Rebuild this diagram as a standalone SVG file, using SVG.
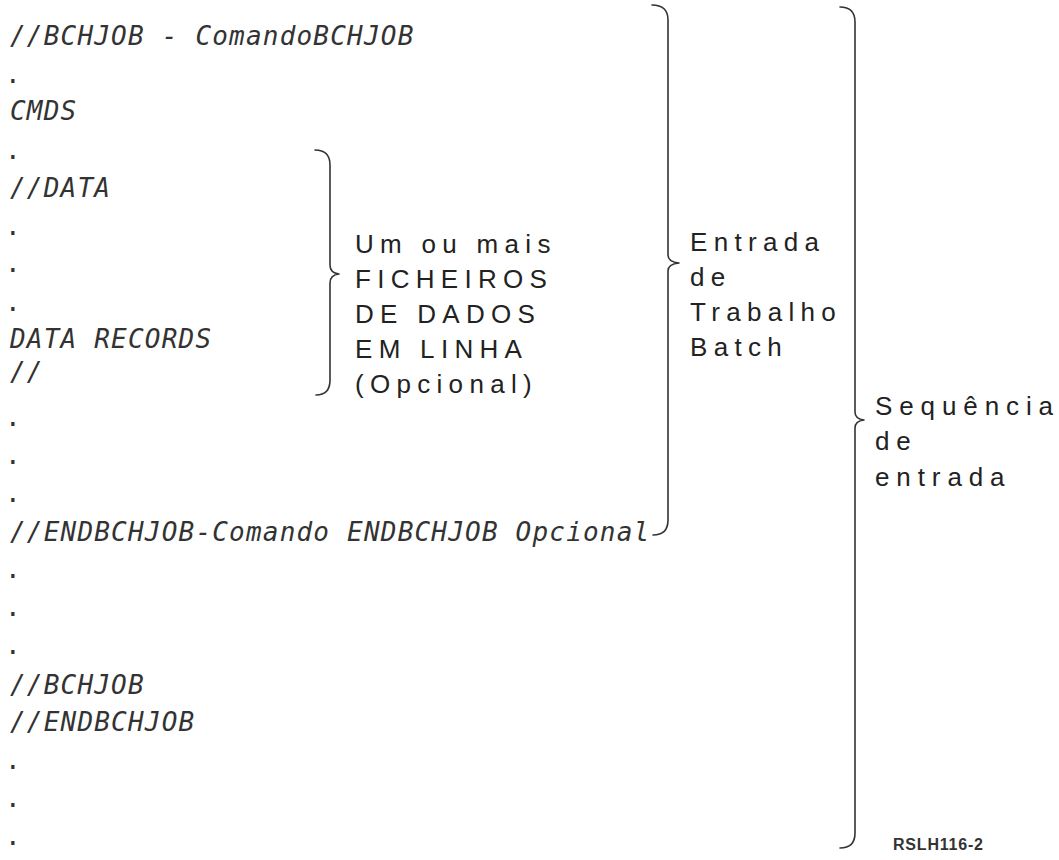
<svg xmlns="http://www.w3.org/2000/svg" width="1059" height="860" viewBox="0 0 1059 860">
<style>
.code{font-family:"DejaVu Sans Mono","Liberation Mono",monospace;font-style:italic;font-size:26px;letter-spacing:1.2px;fill:#333}
.dot{font-family:"DejaVu Sans Mono","Liberation Mono",monospace;font-size:26px;fill:#333}
.lbl{font-family:"Liberation Sans",Arial,sans-serif;font-size:26px;letter-spacing:6.3px;fill:#222}
.wide{letter-spacing:6.9px}
.id{font-family:"Liberation Sans",Arial,sans-serif;font-size:16px;font-weight:bold;letter-spacing:0.8px;fill:#333}
.brace{fill:none;stroke:#333;stroke-width:1.6;stroke-linecap:round;stroke-linejoin:round}
</style>
<rect width="1059" height="860" fill="#fff"/>
<g id="listing">
<text class="code" x="10" y="45">//BCHJOB - ComandoBCHJOB</text>
<text class="dot" x="5" y="83">.</text>
<text class="code" x="10" y="120">CMDS</text>
<text class="dot" x="5" y="159">.</text>
<text class="code" x="10" y="197">//DATA</text>
<text class="dot" x="5" y="235">.</text>
<text class="dot" x="5" y="272">.</text>
<text class="dot" x="5" y="311">.</text>
<text class="code" x="10" y="348">DATA RECORDS</text>
<text class="code" x="10" y="381">//</text>
<text class="dot" x="5" y="426">.</text>
<text class="dot" x="5" y="464">.</text>
<text class="dot" x="5" y="502">.</text>
<text class="code" x="10" y="541">//ENDBCHJOB-Comando ENDBCHJOB Opcional</text>
<text class="dot" x="5" y="578">.</text>
<text class="dot" x="5" y="616">.</text>
<text class="dot" x="5" y="654">.</text>
<text class="code" x="10" y="694">//BCHJOB</text>
<text class="code" x="10" y="731">//ENDBCHJOB</text>
<text class="dot" x="5" y="769">.</text>
<text class="dot" x="5" y="807">.</text>
<text class="dot" x="5" y="845">.</text>
</g>
<g id="connectors">
<path id="brace-data" class="brace" d="M315 150 Q330 150 330 165 L330 265 Q330 273 339 274 Q330 275 330 283 L330 380 Q330 395 316 395"/>
<path id="brace-job" class="brace" d="M652 5 Q668 5 668 20 L668 255 Q668 262 679 263 Q668 264 668 271 L668 520 Q668 535 653 535"/>
<path id="brace-seq" class="brace" d="M840 7 Q855 7 855 22 L855 412 Q855 419 864 420 Q855 421 855 428 L855 833 Q855 848 840 848"/>
</g>
<g id="label-data">
<text class="lbl" x="355" y="253">Um ou mais</text>
<text class="lbl" x="355" y="288">FICHEIROS</text>
<text class="lbl" x="355" y="323">DE DADOS</text>
<text class="lbl" x="355" y="358">EM LINHA</text>
<text class="lbl" x="355" y="393">(Opcional)</text>
</g>
<g id="label-job">
<text class="lbl" x="690" y="251">Entrada</text>
<text class="lbl" x="690" y="286">de</text>
<text class="lbl" x="690" y="321">Trabalho</text>
<text class="lbl" x="690" y="356">Batch</text>
</g>
<g id="label-seq">
<text class="lbl wide" x="875" y="415">Sequência</text>
<text class="lbl wide" x="875" y="450">de</text>
<text class="lbl wide" x="875" y="486">entrada</text>
</g>
<g id="figure-id">
<text class="id" x="893" y="850">RSLH116-2</text>
</g>
</svg>
